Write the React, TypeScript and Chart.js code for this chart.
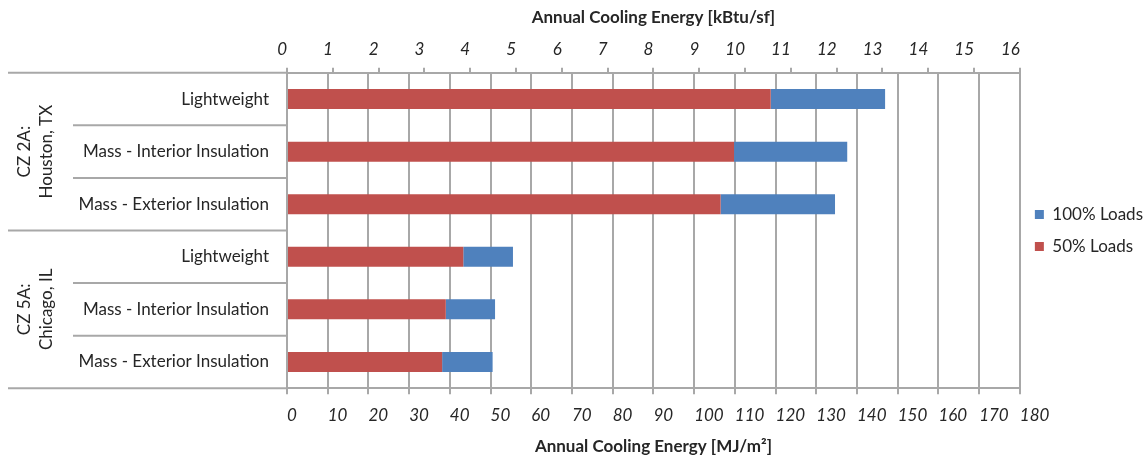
import React, { useEffect, useRef } from "react";
import { Chart, registerables } from "chart.js";

Chart.register(...registerables);

const CATEGORIES = [
  "Lightweight",
  "Mass - Interior Insulation",
  "Mass - Exterior Insulation",
  "Lightweight",
  "Mass - Interior Insulation",
  "Mass - Exterior Insulation",
];
const GROUPS = [
  ["CZ 2A:", "Houston, TX"],
  ["CZ 5A:", "Chicago, IL"],
];
const GROUP_SIZE = 3;
// MJ/m² values (stacked segments)
const LOADS_50 = [118.8, 109.8, 106.5, 43.3, 39.0, 38.1];
const LOADS_100_EXTRA = [28.1, 27.8, 28.1, 12.2, 12.1, 12.4];
const MJ_MAX = 180;
const MJ_STEP = 10;
const KBTU_MAX = 16;
const KBTU_STEP = 1;

const FONT = "Lato, 'Open Sans', sans-serif";
const FS = 17;
const GRID = "#a8a8a8";
const TEXT = "#262626";

const groupPlugin = {
  id: "groupLabels",
  afterDraw(chart: any) {
    const { ctx, chartArea } = chart;
    const y = chart.scales.y;
    const n = CATEGORIES.length;
    ctx.save();
    ctx.strokeStyle = GRID;
    ctx.lineWidth = 2;
    for (let i = 0; i <= n; i++) {
      let yy: number;
      if (i === 0) yy = chartArea.top;
      else if (i === n) yy = chartArea.bottom;
      else yy = (y.getPixelForValue(i - 1) + y.getPixelForValue(i)) / 2;
      const isGroup = i % GROUP_SIZE === 0;
      const x0 = isGroup ? 8 : 73;
      ctx.beginPath();
      ctx.moveTo(x0, yy);
      ctx.lineTo(chartArea.left, yy);
      ctx.stroke();
    }
    ctx.fillStyle = TEXT;
    ctx.font = `${FS}px ${FONT}`;
    ctx.textAlign = "center";
    ctx.textBaseline = "middle";
    GROUPS.forEach((lines, g) => {
      const a = y.getPixelForValue(g * GROUP_SIZE);
      const b = y.getPixelForValue(g * GROUP_SIZE + GROUP_SIZE - 1);
      const cy = (a + b) / 2;
      ctx.save();
      ctx.translate(36, cy);
      ctx.rotate(-Math.PI / 2);
      ctx.fillText(lines[0], 0, -11);
      ctx.fillText(lines[1], 0, 11);
      ctx.restore();
    });
    ctx.restore();
  },
};

export default function App() {
  const ref = useRef<HTMLCanvasElement | null>(null);
  useEffect(() => {
    if (!ref.current) return;
    const chart = new Chart(ref.current, {
      type: "bar",
      data: {
        labels: CATEGORIES,
        datasets: [
          {
            label: "50% Loads",
            data: LOADS_50,
            backgroundColor: "#C0504D",
            xAxisID: "x",
            barPercentage: 0.38,
            categoryPercentage: 1,
          },
          {
            label: "100% Loads",
            data: LOADS_100_EXTRA,
            backgroundColor: "#4F81BD",
            xAxisID: "x",
            barPercentage: 0.38,
            categoryPercentage: 1,
          },
        ],
      },
      options: {
        indexAxis: "y",
        animation: false,
        responsive: true,
        maintainAspectRatio: false,
        layout: { padding: { left: 0, right: -7, top: 0, bottom: 0 } },
        plugins: {
          tooltip: { enabled: false },
          legend: {
            position: "right",
            reverse: true,
            labels: {
              boxWidth: 9,
              boxHeight: 9,
              padding: 15,
              color: TEXT,
              font: { family: FONT, size: FS },
            },
          },
        },
        scales: {
          x: {
            type: "linear",
            position: "bottom",
            stacked: true,
            min: 0,
            max: MJ_MAX,
            grid: { color: GRID, lineWidth: 2, tickLength: 6, tickColor: GRID },
            border: { color: GRID, width: 2 },
            ticks: {
              stepSize: MJ_STEP,
              align: "start",
              padding: 11,
              color: TEXT,
              font: { family: FONT, size: FS, style: "italic" },
            },
            title: {
              display: true,
              text: "Annual Cooling Energy [MJ/m²]",
              color: TEXT,
              font: { family: FONT, size: FS, weight: "bold" },
              padding: { top: 0, bottom: 4 },
            },
          },
          x2: {
            type: "linear",
            position: "top",
            min: 0,
            max: KBTU_MAX,
            grid: { drawOnChartArea: false, color: GRID, lineWidth: 2, tickLength: 5, tickColor: GRID },
            border: { color: GRID, width: 2 },
            ticks: {
              stepSize: KBTU_STEP,
              align: "end",
              padding: 8,
              color: TEXT,
              font: { family: FONT, size: FS, style: "italic" },
            },
            title: {
              display: true,
              text: "Annual Cooling Energy [kBtu/sf]",
              color: TEXT,
              font: { family: FONT, size: FS, weight: "bold" },
              padding: { top: 7, bottom: 4 },
            },
          },
          y: {
            type: "category",
            stacked: true,
            grid: { display: false, drawTicks: false },
            border: { color: GRID, width: 2 },
            ticks: {
              padding: 18,
              color: TEXT,
              font: { family: FONT, size: FS },
            },
            afterFit(scale: any) {
              scale.width = 287;
            },
          },
        },
      },
      plugins: [groupPlugin],
    } as any);
    return () => chart.destroy();
  }, []);
  return (
    <div style={{ position: "fixed", left: 0, top: 0, width: 1146, height: 461, background: "#fff" }}>
      <canvas ref={ref} />
    </div>
  );
}
